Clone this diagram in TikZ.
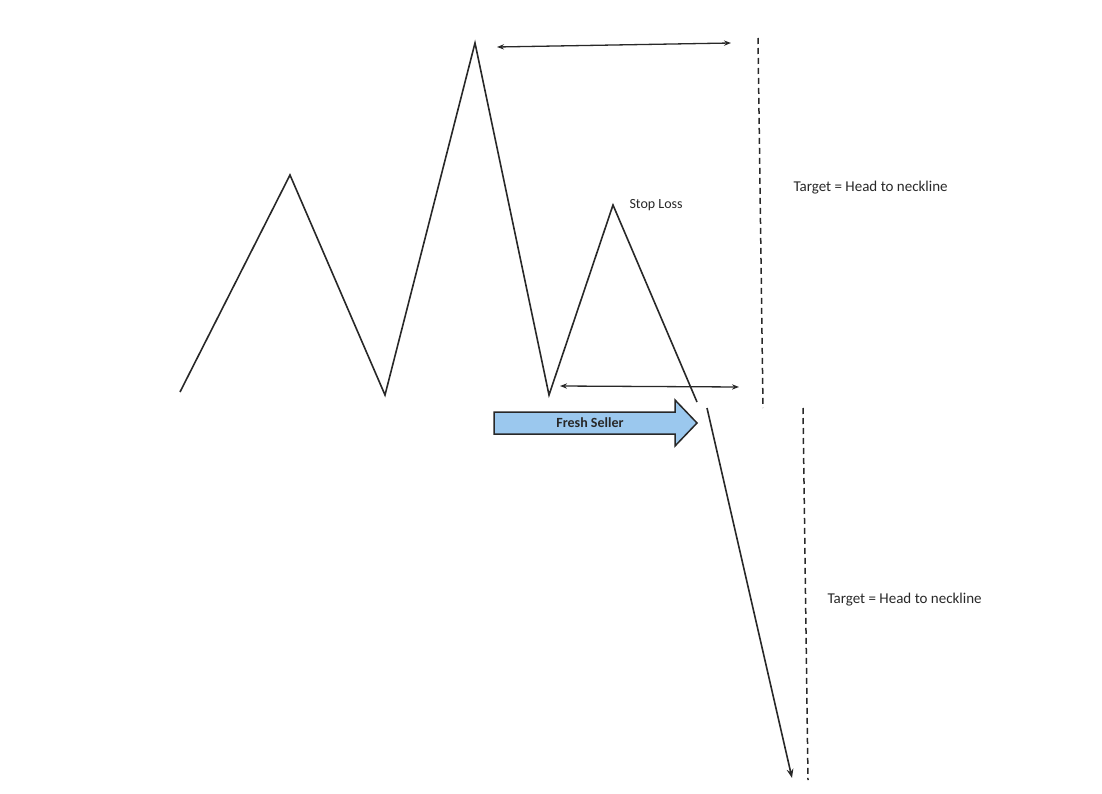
\documentclass[tikz,border=0pt]{standalone}
\usepackage{fontspec}
\setmainfont{Carlito}
\usetikzlibrary{arrows.meta}
\definecolor{sellblue}{RGB}{155,200,238}
\definecolor{ink}{RGB}{40,40,40}

\begin{document}
\begin{tikzpicture}[
    x=1pt, y=-1pt,
    price/.style={draw=ink, line width=1.6pt, line join=miter},
    span/.style={draw=ink, line width=1.3pt, {Stealth[length=7pt]}-{Stealth[length=7pt]}},
    target/.style={draw=ink, line width=1.5pt, dashed, dash pattern=on 6pt off 4pt},
    note/.style={font=\fontsize{15}{17}\selectfont, text=ink},
    seller/.style={draw=ink, line width=1.5pt, fill=sellblue, line join=miter}
]
    \useasboundingbox (0,0) rectangle (1102,794);
    % pattern
    \coordinate (ls) at (180,392);
    \coordinate (lsh) at (290,175);
    \coordinate (t1) at (385,395);
    \coordinate (head) at (475,43);
    \coordinate (t2) at (549,395);
    \coordinate (rsh) at (613,205);
    \coordinate (brk) at (697,402);
    \coordinate (brk2) at (707,408);
    \coordinate (low) at (792,778);
    \draw[price] (ls) -- (lsh) -- (t1) -- (head) -- (t2) -- (rsh) -- (brk);
    \draw[price, -{Stealth[length=9pt]}] (brk2) -- (low);
    % measured spans
    \coordinate (hs) at (497,47);
    \coordinate (he) at (731,43);
    \coordinate (ns) at (560,386);
    \coordinate (ne) at (739,387);
    \draw[span] (hs) -- (he);
    \draw[span] (ns) -- (ne);
    % targets
    \coordinate (d1a) at (758,38);
    \coordinate (d1b) at (763,408);
    \coordinate (d2a) at (803,408);
    \coordinate (d2b) at (808,780);
    \draw[target] (d1a) -- (d1b);
    \draw[target] (d2a) -- (d2b);
    \node[note, anchor=west] (tgt1) at (790,188) {Target = Head to neckline};
    \node[note, anchor=west] (tgt2) at (824,600) {Target = Head to neckline};
    \node[note, anchor=west, font=\fontsize{14}{16}\selectfont] (stop) at (626,205) {Stop Loss};
    % entry
    \draw[seller] (494,412) -- (675,412) -- (675,400) -- (697,423) -- (675,446)
        -- (675,434) -- (494,434) -- cycle;
    \node[font=\bfseries\fontsize{14}{16}\selectfont, text=ink] (fresh) at (590,423) {Fresh Seller};
\end{tikzpicture}
\end{document}
